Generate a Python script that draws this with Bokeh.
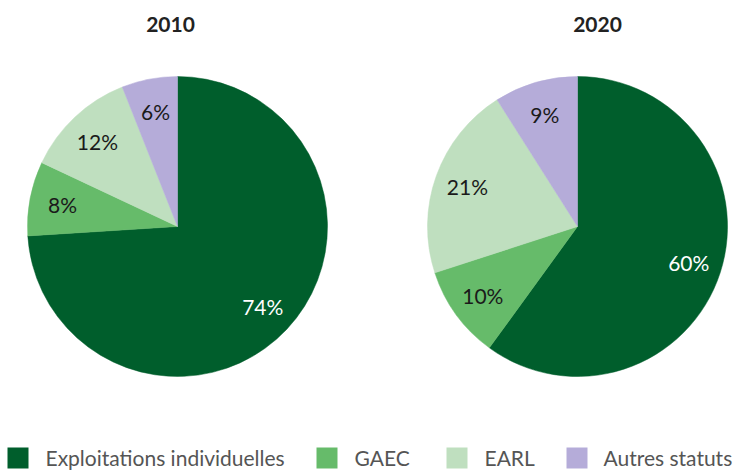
import math
from bokeh.plotting import figure
from bokeh.models import Range1d, ColumnDataSource
from bokeh.embed import file_html
from bokeh.resources import INLINE
from bokeh.core.properties import value

# ---- data ----
categories = ["Exploitations individuelles", "GAEC", "EARL", "Autres statuts"]
colors = ["#005e2c", "#66bb6a", "#bfdfbf", "#b5acd9"]
label_colors = ["#ffffff", "#1a1a1a", "#1a1a1a", "#1a1a1a"]
years = ["2010", "2020"]
values_2010 = [74, 8, 12, 6]
values_2020 = [60, 10, 21, 9]

# ---- layout (page pixel coordinates) ----
W, H = 734, 471
def Y(py):
    return H - py

centers = [(177, 226), (577, 226)]
radius = 150
title_pos = [(170, 24), (597, 24)]
label_r = 0.78 * radius

p = figure(width=W, height=H, x_range=Range1d(0, W), y_range=Range1d(0, H),
           output_backend="svg", toolbar_location=None, min_border=0,
           background_fill_color="white", border_fill_color="white")
p.axis.visible = False
p.xgrid.visible = False
p.ygrid.visible = False
p.outline_line_color = None

for (cx, cy), yr, vals, (tx, ty) in zip(centers, years, [values_2010, values_2020], title_pos):
    total = float(sum(vals))
    starts, ends, lx, ly, texts = [], [], [], [], []
    cum = 0.0
    for v in vals:
        a0 = cum / total
        a1 = (cum + v) / total
        starts.append(math.pi / 2 - 2 * math.pi * a0)
        ends.append(math.pi / 2 - 2 * math.pi * a1)
        mid = 2 * math.pi * (a0 + a1) / 2
        lx.append(cx + label_r * math.sin(mid))
        ly.append(Y(cy) + label_r * math.cos(mid))
        texts.append(f"{v}%")
        cum += v
    src = ColumnDataSource(dict(start=starts, end=ends, color=colors,
                                lx=lx, ly=ly, text=texts, tcolor=label_colors))
    p.wedge(x=cx, y=Y(cy), radius=radius, start_angle="start", end_angle="end",
            direction="clock", fill_color="color", line_color="color",
            line_width=0.5, source=src)
    p.text(x="lx", y="ly", text="text", text_color="tcolor", source=src,
           text_align="center", text_baseline="middle",
           text_font=value("Lato"), text_font_size="21px")
    p.text(x=[tx], y=[Y(ty)], text=[yr], text_align="center", text_baseline="middle",
           text_font=value("Lato"), text_font_style="bold", text_font_size="21px",
           text_color="#222222")

# ---- legend ----
sq_x = [7, 316, 446, 566]
txt_x = [45, 354, 484, 603]
sq = 21
leg_top = 447
lsrc = ColumnDataSource(dict(
    x=[x + sq / 2 for x in sq_x], y=[Y(leg_top + sq / 2)] * 4, color=colors,
    tx=txt_x, ty=[Y(457)] * 4, text=categories))
p.rect(x="x", y="y", width=sq, height=sq, fill_color="color", line_color=None, source=lsrc)
p.text(x="tx", y="ty", text="text", source=lsrc, text_align="left", text_baseline="middle",
       text_font=value("Lato"), text_font_size="21px", text_color="#555555")

open("out.html", "w").write(file_html(p, INLINE))
